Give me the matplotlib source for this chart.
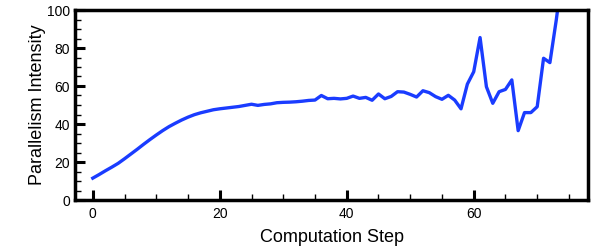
import numpy as np
import matplotlib
matplotlib.use("Agg")
import matplotlib.pyplot as plt
from matplotlib.ticker import MultipleLocator

plt.rcParams['font.family'] = ['Liberation Sans', 'DejaVu Sans']

# values
steps = list(range(0, 75))
intensity = [11.5, 13.4, 15.4, 17.3, 19.3, 21.7, 24.2, 26.7, 29.3, 31.8,
             34.2, 36.5, 38.6, 40.4, 42.1, 43.6, 44.9, 45.9, 46.7, 47.5,
             48.0, 48.4, 48.8, 49.2, 49.8, 50.4, 49.8, 50.3, 50.6, 51.2,
             51.4, 51.5, 51.7, 52.0, 52.4, 52.6, 55.0, 53.3, 53.5, 53.2,
             53.5, 54.7, 53.5, 54.0, 52.5, 55.8, 53.3, 54.5, 57.0, 56.8,
             55.6, 54.2, 57.5, 56.5, 54.4, 53.0, 55.1, 52.6, 48.0, 61.0,
             67.5, 85.5, 59.6, 50.9, 57.0, 58.2, 63.2, 36.5, 46.0, 46.0,
             49.1, 74.6, 72.3, 94.7, 120.0]

fig = plt.figure(figsize=(6, 2.5), dpi=100)
ax = fig.add_axes([0.125, 0.2, 0.855, 0.76])

ax.plot(steps, intensity, color="#1a3cff", linewidth=2.4)

ax.set_xlim(-2.8, 78)
ax.set_ylim(0, 100)
ax.xaxis.set_major_locator(MultipleLocator(20))
ax.xaxis.set_minor_locator(MultipleLocator(5))
ax.yaxis.set_major_locator(MultipleLocator(20))
ax.yaxis.set_minor_locator(MultipleLocator(5))
ax.tick_params(which="major", direction="in", length=7, width=2.2, labelsize=10)
ax.tick_params(axis="x", which="major", pad=5)
ax.tick_params(which="minor", direction="in", length=4, width=1)
for s in ax.spines.values():
    s.set_linewidth(2.5)

ax.set_xlabel("Computation Step", fontsize=13, labelpad=6)
ax.set_ylabel("Parallelism Intensity", fontsize=13, labelpad=1)

fig.savefig("out.png", dpi=100)
